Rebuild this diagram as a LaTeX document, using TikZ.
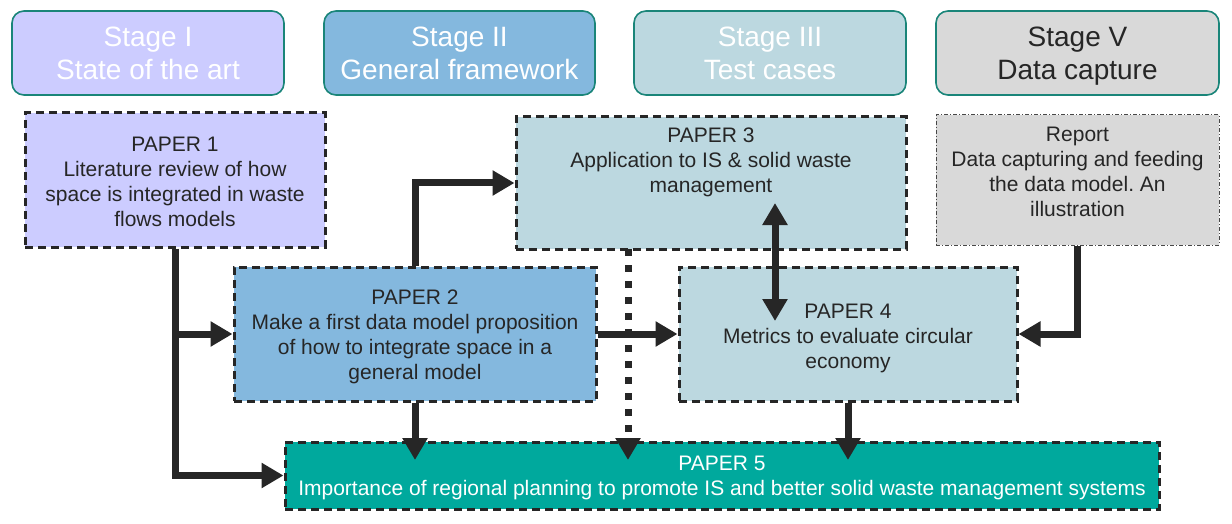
\documentclass[tikz,border=0pt]{standalone}
\usepackage{fontspec}
\setmainfont{Liberation Sans}
\usetikzlibrary{arrows.meta}
\definecolor{stageborder}{HTML}{1A8579}
\definecolor{lav}{HTML}{CCCCFF}
\definecolor{bluetwo}{HTML}{84B8DE}
\definecolor{pale}{HTML}{BCD8E0}
\definecolor{greyfive}{HTML}{D9D9D9}
\definecolor{tealp}{HTML}{00A99D}
\definecolor{ink}{HTML}{262626}
\tikzset{bigtip/.tip={Triangle[length=22pt,width=24pt]}}
\frenchspacing
\begin{document}
\begin{tikzpicture}[x=1pt,y=-1pt,
 stagebox/.style={draw=stageborder, line width=1.6pt, rounded corners=12pt, minimum height=84pt, inner sep=0pt},
 stagetext/.style={inner sep=0pt, align=center, font=\fontsize{28}{33}\selectfont, text=white},
 paperbox/.style={draw=ink, line width=3pt, dash pattern=on 8pt off 5pt, inner sep=0pt},
 ptext/.style={inner sep=0pt, align=center, font=\fontsize{21}{25}\selectfont, text=ink},
 arr/.style={draw=ink, line width=7pt, -bigtip},
 darr/.style={draw=ink, line width=7pt, bigtip-bigtip},
]
\useasboundingbox[fill=white] (0,0) rectangle (1232,524);

% stage headers
\node[stagebox, fill=lav, minimum width=272pt] (s1) at (148,53) {};
\node[stagebox, fill=bluetwo, minimum width=271pt] (s2) at (459.5,53) {};
\node[stagebox, fill=pale, minimum width=272pt] (s3) at (770,53) {};
\node[stagebox, fill=greyfive, minimum width=283pt] (s5) at (1077.5,53) {};
\node[stagetext] (s1t) at (148,53.5) {Stage I\\State of the art};
\node[stagetext] (s2t) at (459.5,53.5) {Stage II\\General framework};
\node[stagetext] (s3t) at (770,53.5) {Stage III\\Test cases};
\node[stagetext, text=ink] (s5t) at (1077.5,56.5) {Stage V\\Data capture};

% papers
\node[paperbox, fill=lav, minimum width=300pt, minimum height=134pt] (p1) at (175,180) {};
\node[ptext] (p1t) at (175,181.5) {PAPER 1\\Literature review of how\\space is integrated in waste\\flows models};
\node[paperbox, fill=pale, minimum width=390pt, minimum height=132pt] (p3) at (711,183) {};
\node[ptext] (p3t) at (711,162) {PAPER 3\\Application to IS \& solid waste\\management};
\node[draw=ink!85, line width=1pt, dash pattern=on 4pt off 2pt on 1pt off 2pt, fill=greyfive, minimum width=283pt, minimum height=130pt, inner sep=0pt] (rep) at (1077.5,180) {};
\node[ptext] (rept) at (1077.5,172) {Report\\Data capturing and feeding\\the data model. An\\illustration};
\node[paperbox, fill=bluetwo, minimum width=362pt, minimum height=134pt] (p2) at (415,334) {};
\node[ptext] (p2t) at (415,337) {PAPER 2\\Make a first data model proposition\\of how to integrate space in a\\general model};
\node[paperbox, fill=pale, minimum width=338pt, minimum height=134pt] (p4) at (848,334) {};
\node[ptext] (p4t) at (848,338) {PAPER 4\\Metrics to evaluate circular\\economy};
\node[paperbox, fill=tealp, minimum width=874pt, minimum height=67pt] (p5) at (722,475.5) {};
\node[ptext, text=white] (p5t) at (722,478) {PAPER 5\\Importance of regional planning to promote IS and better solid waste management systems};

% helper coordinates
\coordinate (t5) at (722,460);
\coordinate (d3) at (628,249);
\coordinate (da) at (775,203);
\coordinate (db) at (775,321);

% connectors
\draw[arr] (p1.south) |- (p5.west);
\draw[arr] (p1.south |- p2.west) -- (p2.west);
\draw[arr] (p2.north) |- (p3.west);
\draw[arr] (p2.east) -- (p4.west);
\draw[arr] (rep.south) |- (p4.east);
\draw[arr] (p2.south) -- (p2.south |- t5);
\draw[arr] (p4.south) -- (p4.south |- t5);
\draw[arr, dash pattern=on 7pt off 9pt] (d3) -- (d3 |- t5);
\draw[darr] (da) -- (db);
\end{tikzpicture}
\end{document}
